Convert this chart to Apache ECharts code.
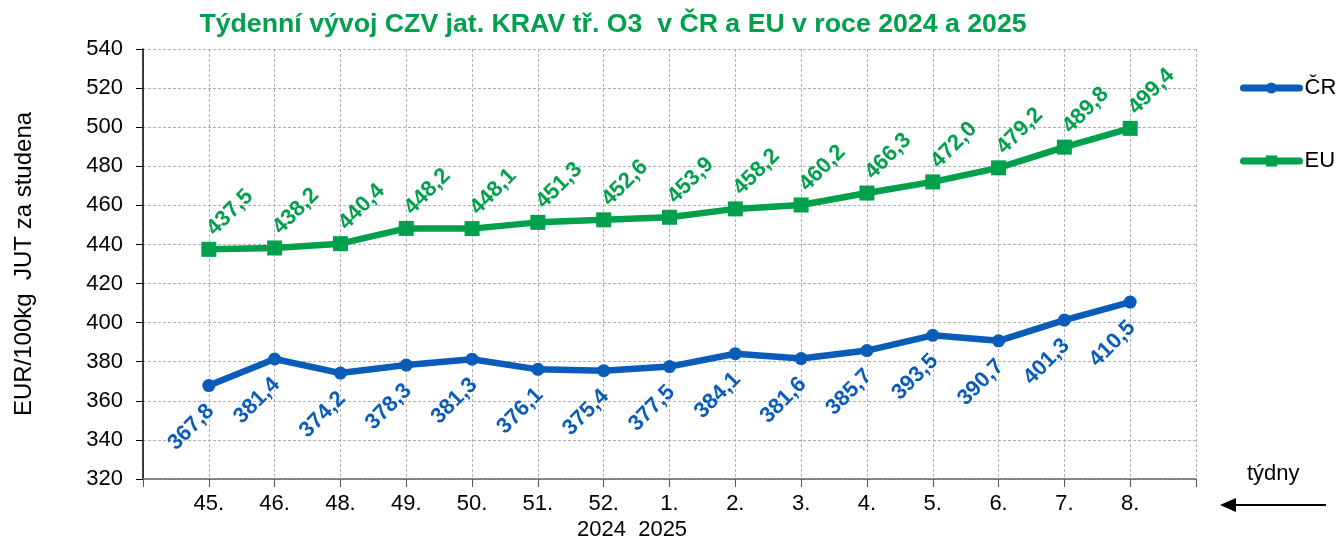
<!DOCTYPE html>
<html>
<head>
<meta charset="utf-8">
<script src="https://cdn.jsdelivr.net/npm/echarts@6/dist/echarts.min.js"></script>
<style>
  html, body { margin: 0; padding: 0; background: #fff; }
  #chart { width: 1338px; height: 544px; }
</style>
</head>
<body>
<div id="chart"></div>
<script>
// týdny (prázdné okraje na začátku a konci osy)
const weeks = ['', '45.', '46.', '48.', '49.', '50.', '51.', '52.', '1.', '2.', '3.', '4.', '5.', '6.', '7.', '8.', ''];
const crValues = ['-', 367.8, 381.4, 374.2, 378.3, 381.3, 376.1, 375.4, 377.5, 384.1, 381.6, 385.7, 393.5, 390.7, 401.3, 410.5, '-'];
const euValues = ['-', 437.5, 438.2, 440.4, 448.2, 448.1, 451.3, 452.6, 453.9, 458.2, 460.2, 466.3, 472.0, 479.2, 489.8, 499.4, '-'];

const blue = '#0a5cb8';
const green = '#00a04c';
const font = 'Liberation Sans, Arial, sans-serif';

const fmt = p => p.value.toFixed(1).replace('.', ',');

const myChart = echarts.init(document.getElementById('chart'));
const options = {
    animation: false,
    textStyle: { fontFamily: font },
    title: {
        text: 'Týdenní vývoj CZV jat. KRAV tř. O3  v ČR a EU v roce 2024 a 2025',
        left: 608,
        textAlign: 'center',
        top: 6,
        textStyle: { color: green, fontSize: 26.7, fontWeight: 'bold', fontFamily: font }
    },
    legend: {
        orient: 'vertical',
        left: 1240,
        top: 77,
        padding: 0,
        itemWidth: 56,
        itemHeight: 14,
        itemGap: 51,
        lineStyle: { width: 7, cap: 'round' },
        textStyle: { color: '#000', fontSize: 22, fontFamily: font },
        data: ['ČR', 'EU']
    },
    grid: { left: 143, right: 142, top: 49, bottom: 65 },
    xAxis: {
        type: 'category',
        data: weeks,
        boundaryGap: false,
        axisLine: { lineStyle: { color: '#666', width: 1.5 } },
        axisTick: { length: 8, lineStyle: { color: '#555' }, interval: 0 },
        axisLabel: { color: '#000', fontSize: 22, margin: 14, interval: 0, fontFamily: font },
        splitLine: { show: true, lineStyle: { color: '#b0b0b0', type: [3, 2] } }
    },
    yAxis: {
        type: 'value',
        min: 320,
        max: 540,
        interval: 20,
        name: 'EUR/100kg  JUT za studena',
        nameLocation: 'middle',
        nameGap: 107,
        nameTextStyle: { color: '#000', fontSize: 24, fontFamily: font },
        axisLine: { show: true, lineStyle: { color: '#000', width: 1.5 } },
        axisTick: { show: true, length: 7, lineStyle: { color: '#000' } },
        axisLabel: { color: '#000', fontSize: 22, margin: 20, fontFamily: font },
        splitLine: { show: true, lineStyle: { color: '#b0b0b0', type: [3, 2] } }
    },
    series: [
        {
            name: 'ČR',
            type: 'line',
            data: crValues,
            color: blue,
            symbol: 'circle',
            symbolSize: 13,
            lineStyle: { width: 6.5, color: blue },
            itemStyle: { color: blue },
            label: {
                show: true,
                position: 'inside',
                offset: [-42, 17],
                rotate: 45,
                align: 'center',
                verticalAlign: 'middle',
                color: blue,
                fontSize: 22,
                fontWeight: 'bold',
                fontFamily: font,
                formatter: fmt
            }
        },
        {
            name: 'EU',
            type: 'line',
            data: euValues,
            color: green,
            symbol: 'rect',
            symbolSize: 15,
            lineStyle: { width: 6.5, color: green },
            itemStyle: { color: green },
            label: {
                show: true,
                position: 'inside',
                offset: [41, -11],
                rotate: 45,
                align: 'center',
                verticalAlign: 'middle',
                color: green,
                fontSize: 22,
                fontWeight: 'bold',
                fontFamily: font,
                formatter: fmt
            }
        }
    ],
    graphic: [
        {
            type: 'text',
            left: 577,
            top: 519,
            style: { text: '2024  2025', fill: '#000', fontSize: 22, fontFamily: font }
        },
        {
            type: 'text',
            left: 1247,
            top: 463,
            style: { text: 'týdny', fill: '#000', fontSize: 22, fontFamily: font }
        },
        {
            type: 'line',
            shape: { x1: 1326, y1: 505, x2: 1234, y2: 505 },
            style: { stroke: '#000', lineWidth: 2 }
        },
        {
            type: 'polygon',
            shape: { points: [[1220, 505], [1236, 498], [1236, 512]] },
            style: { fill: '#000' }
        }
    ]
};
myChart.setOption(options);
</script>
</body>
</html>
